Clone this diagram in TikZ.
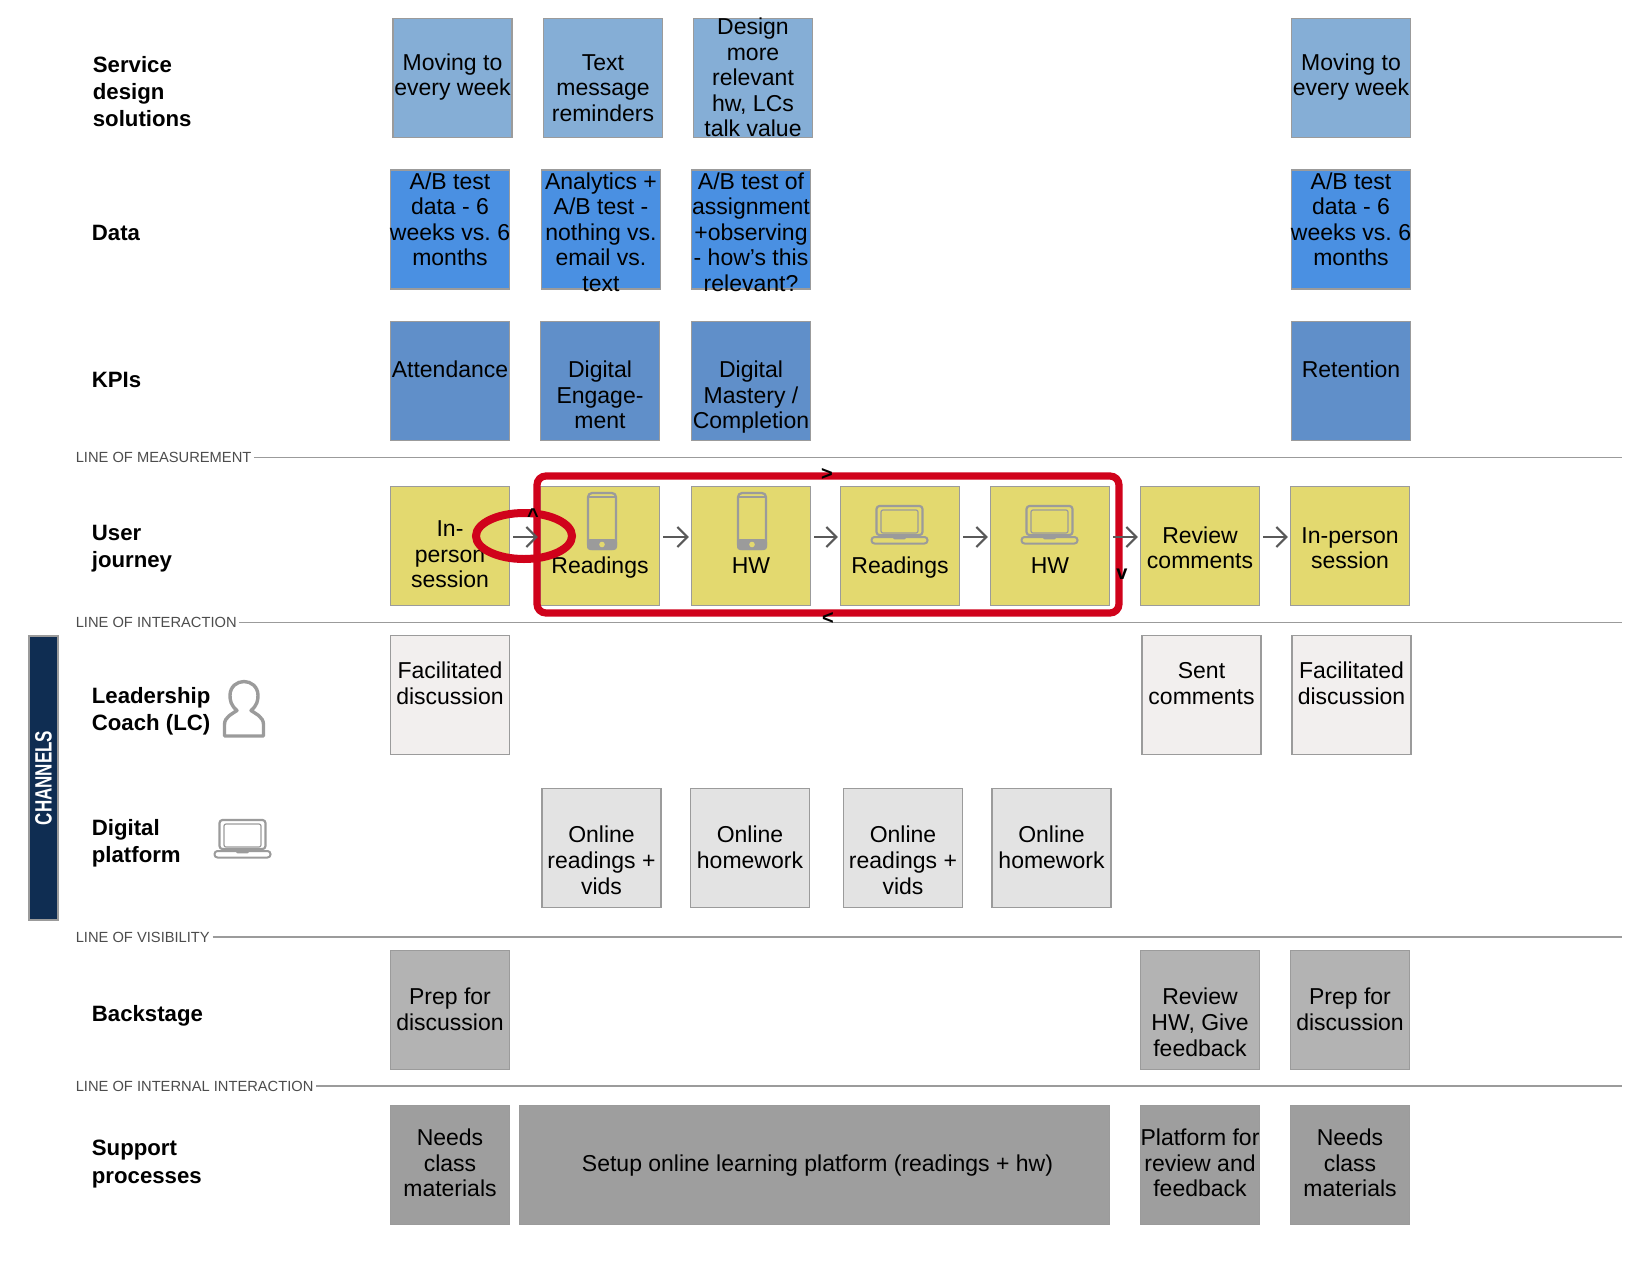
\documentclass[tikz,border=0pt]{standalone}
\usepackage{fontspec}
\setmainfont{Liberation Sans}
\usetikzlibrary{arrows.meta,shapes.geometric}
\definecolor{linegray}{HTML}{9B9B9B}
\definecolor{loopred}{HTML}{D0021B}
\definecolor{solcolor}{HTML}{85AED6}
\definecolor{datacolor}{HTML}{4A90E2}
\definecolor{kpicolor}{HTML}{608FC9}
\definecolor{journeycolor}{HTML}{E3D96F}
\definecolor{coachcolor}{HTML}{F2EFEE}
\definecolor{digitalcolor}{HTML}{E3E3E3}
\definecolor{backcolor}{HTML}{B3B3B3}
\definecolor{supportcolor}{HTML}{9E9E9E}
\definecolor{channelcolor}{HTML}{0F2D52}
\newcommand{\boxtext}[2]{\makebox[0pt]{\raisebox{\dimexpr#1-1pt\relax}[0pt][0pt]{\begin{tabular}[t]{@{}c@{}}#2\end{tabular}}}}
\tikzset{
  cell/.style={draw=linegray, line width=0.6pt, inner sep=0pt, minimum width=59.5pt, minimum height=59.5pt, text=black, font={\fontsize{11.5}{12.8}\selectfont\frenchspacing}},
  solution/.style={cell, fill=solcolor},
  databox/.style={cell, fill=datacolor},
  kpi/.style={cell, fill=kpicolor},
  journey/.style={cell, fill=journeycolor},
  coach/.style={cell, fill=coachcolor},
  digital/.style={cell, fill=digitalcolor},
  backstage/.style={cell, fill=backcolor},
  support/.style={cell, fill=supportcolor},
  rowlabel/.style={anchor=west, align=left, inner sep=0pt, font={\fontsize{11.1}{13.6}\selectfont\bfseries}},
  linelabel/.style={anchor=west, inner sep=1.2pt, text=black!70, font={\fontsize{7.35}{9}\selectfont}},
  sepline/.style={draw=linegray, line width=0.6pt},
  flow/.style={draw=black!65, line width=1.1pt, -{Straight Barb[length=5pt,width=10pt]}, shorten >=1pt, shorten <=1.5pt},
  caret/.style={inner sep=0pt, font={\fontsize{10}{10}\selectfont\bfseries}},
  icon/.style={draw=linegray, line width=1.1pt, line join=round},
  phoneicon/.pic={
    \draw [icon] (-14,-28) [rounded corners=2pt] rectangle (14,28);
    \draw [icon, line width=0.7pt] (-14,-24) -- (14,-24);
    \fill [linegray, rounded corners=1.5pt] (-15,18) rectangle (15,29);
    \fill [journeycolor] (0,23.5) circle (1.4pt);
  },
  laptopicon/.pic={
    \draw [icon] (-23,-19) [rounded corners=1.5pt] rectangle (23,10);
    \draw [icon, line width=0.6pt] (-18.5,-15) [rounded corners=1pt] rectangle (18.5,8);
    \draw [icon, line width=1pt] (-28,12) [rounded corners=1.5pt] rectangle (28,18.5);
    \draw [icon, line width=0.8pt] (-7,11) -- (-5,13.5) -- (5,13.5) -- (7,11);
  },
  personicon/.pic={
    \draw [icon, line width=1.7pt] (-19.5,27.5) -- (19.5,27.5) -- (19.5,16)
      .. controls (19.5,8) and (11,5) .. (7,2)
      .. controls (13,-3) and (14,-8) .. (14,-13)
      .. controls (14,-22) and (7,-27) .. (0,-27)
      .. controls (-7,-27) and (-14,-22) .. (-14,-13)
      .. controls (-14,-8) and (-13,-3) .. (-7,2)
      .. controls (-11,5) and (-19.5,8) .. (-19.5,16) -- cycle;
  }
}
\begin{document}
\begin{tikzpicture}[x=0.5pt,y=-0.5pt]
  \useasboundingbox (0,0) rectangle (1650,1275);

  \node (row-sol) at (92.5,91.5) [rowlabel] {Service\\design\\solutions};
  \node (row-data) at (91.5,232.5) [rowlabel] {Data};
  \node (row-kpi) at (91.5,380) [rowlabel] {KPIs};
  \node (row-user) at (91.5,549) [rowlabel] {User\\journey};
  \node (row-lc) at (91.5,711) [rowlabel] {Leadership\\Coach (LC)};
  \node (row-dig) at (91.5,843) [rowlabel] {Digital\\platform};
  \node (row-back) at (91.5,1016) [rowlabel] {Backstage};
  \node (row-supp) at (91.5,1164) [rowlabel] {Support\\processes};

  \node (sol-move) at (452.5,78) [solution] {\boxtext{4.9pt}{Moving to\\every week}};
  \node (sol-text) at (603,78) [solution] {\boxtext{4.9pt}{Text\\message\\reminders}};
  \node (sol-hw) at (753,78) [solution] {\boxtext{22.8pt}{Design\\more\\relevant\\hw, LCs\\talk value}};
  \node (sol-move-b) at (1351,78) [solution] {\boxtext{4.9pt}{Moving to\\every week}};

  \node (data-ab) at (450,229.5) [databox] {\boxtext{21.2pt}{A/B test\\data - 6\\weeks vs. 6\\months}};
  \node (data-an) at (601,229.5) [databox] {\boxtext{21.2pt}{Analytics +\\A/B test -\\nothing vs.\\email vs.\\text}};
  \node (data-as) at (751,229.5) [databox] {\boxtext{21.2pt}{A/B test of\\assignment\\+observing\\- how’s this\\relevant?}};
  \node (data-ab-b) at (1351,229.5) [databox] {\boxtext{21.2pt}{A/B test\\data - 6\\weeks vs. 6\\months}};

  \node (kpi-att) at (450,381) [kpi] {\boxtext{2.8pt}{Attendance}};
  \node (kpi-eng) at (600,381) [kpi] {\boxtext{2.8pt}{Digital\\Engage-\\ment}};
  \node (kpi-mas) at (751,381) [kpi] {\boxtext{2.8pt}{Digital\\Mastery /\\Completion}};
  \node (kpi-ret) at (1351,381) [kpi] {\boxtext{2.8pt}{Retention}};

  \node (line-m) at (73,457.5) [linelabel] {LINE OF MEASUREMENT};
  \coordinate (line-m-end) at (1622,457.5);
  \draw [sepline] (line-m) -- (line-m-end);
  \node (line-i) at (73,622.5) [linelabel] {LINE OF INTERACTION};
  \coordinate (line-i-end) at (1622,622.5);
  \draw [sepline] (line-i) -- (line-i-end);
  \node (line-v) at (73,937) [linelabel] {LINE OF VISIBILITY};
  \coordinate (line-v-end) at (1622,937);
  \draw [sepline] (line-v) -- (line-v-end);
  \node (line-n) at (73,1086) [linelabel] {LINE OF INTERNAL INTERACTION};
  \coordinate (line-n-end) at (1622,1086);
  \draw [sepline] (line-n) -- (line-n-end);

  \node (user-in) at (450,546) [journey] {\boxtext{5.7pt}{In-\\person\\session}};
  \node (user-ra) at (600,546) [journey] {\boxtext{-12.7pt}{Readings}};
  \node (user-ha) at (751,546) [journey] {\boxtext{-12.7pt}{HW}};
  \node (user-rb) at (900,546) [journey] {\boxtext{-12.7pt}{Readings}};
  \node (user-hb) at (1050,546) [journey] {\boxtext{-12.7pt}{HW}};
  \node (user-rev) at (1200,546) [journey] {\boxtext{2.5pt}{Review\\comments}};
  \node (user-out) at (1350,546) [journey] {\boxtext{2.5pt}{In-person\\session}};

  \pic at (602,521) {phoneicon};
  \pic at (752,521) {phoneicon};
  \pic at (899.5,525) {laptopicon};
  \pic at (1049.5,525) {laptopicon};

  \node (lc-in) at (450,695) [coach] {\boxtext{9.1pt}{Facilitated\\discussion}};
  \node (lc-sent) at (1201.5,695) [coach] {\boxtext{9.1pt}{Sent\\comments}};
  \node (lc-out) at (1351.5,695) [coach] {\boxtext{9.1pt}{Facilitated\\discussion}};
  \pic at (244,708.5) {personicon};

  \node (dig-ra) at (601.5,848) [digital] {\boxtext{3.6pt}{Online\\readings +\\vids}};
  \node (dig-ha) at (750,848) [digital] {\boxtext{3.6pt}{Online\\homework}};
  \node (dig-rb) at (903,848) [digital] {\boxtext{3.6pt}{Online\\readings +\\vids}};
  \node (dig-hb) at (1051.5,848) [digital] {\boxtext{3.6pt}{Online\\homework}};
  \pic at (242.5,839) {laptopicon};

  \node (back-in) at (450,1010) [backstage] {\boxtext{3.6pt}{Prep for\\discussion}};
  \node (back-rev) at (1200,1010) [backstage] {\boxtext{3.6pt}{Review\\HW, Give\\feedback}};
  \node (back-out) at (1350,1010) [backstage] {\boxtext{3.6pt}{Prep for\\discussion}};

  \node (supp-in) at (450,1165) [support] {\boxtext{10.7pt}{Needs\\class\\materials}};
  \node (supp-set) at (814.5,1165) [support, minimum width=295pt] {\boxtext{-2pt}{\hspace*{3pt}Setup online learning platform (readings + hw)}};
  \node (supp-rev) at (1200,1165) [support] {\boxtext{10.7pt}{Platform for\\review and\\feedback}};
  \node (supp-out) at (1350,1165) [support] {\boxtext{10.7pt}{Needs\\class\\materials}};

  \node (channels) at (43.5,778) [rotate=90, draw=linegray, line width=0.8pt, fill=channelcolor, text=white, inner sep=0pt, minimum width=142pt, minimum height=14.6pt, font={\fontsize{11.8}{12}\selectfont\bfseries}] {\scalebox{.72}[1]{CHANNELS}};

  \node (ring) at (524,536) [ellipse, draw=loopred, line width=4pt, inner sep=0pt, minimum width=48pt, minimum height=23pt] {};
  \node (loop) at (828,544.5) [draw=loopred, line width=3.6pt, rounded corners=4.5pt, inner sep=0pt, minimum width=291pt, minimum height=68.5pt] {};

  \draw [flow] ([yshift=4.5pt]user-in.east) -- ([yshift=4.5pt]user-ra.west);
  \draw [flow] ([yshift=4.5pt]user-ra.east) -- ([yshift=4.5pt]user-ha.west);
  \draw [flow] ([yshift=4.5pt]user-ha.east) -- ([yshift=4.5pt]user-rb.west);
  \draw [flow] ([yshift=4.5pt]user-rb.east) -- ([yshift=4.5pt]user-hb.west);
  \draw [flow] ([yshift=4.5pt]user-hb.east) -- ([yshift=4.5pt]user-rev.west);
  \draw [flow] ([yshift=4.5pt]user-rev.east) -- ([yshift=4.5pt]user-out.west);

  \node (tip-up) at (533,516) [caret] {\textasciicircum};
  \node (tip-right) at (827,474) [caret] {>};
  \node (tip-down) at (1122,574) [caret] {v};
  \node (tip-left) at (828,618) [caret] {<};
\end{tikzpicture}
\end{document}
